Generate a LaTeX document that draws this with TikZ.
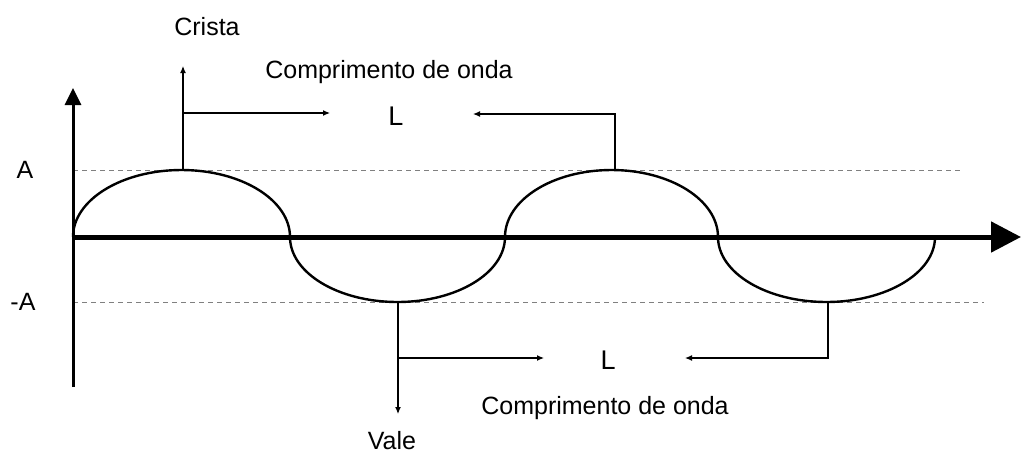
\documentclass[tikz,border=0pt]{standalone}
\usepackage{fontspec}
\setmainfont{Liberation Sans}
\usetikzlibrary{arrows.meta}
\tikzset{
  font=\fontsize{12.5}{14}\selectfont,
  lbl/.style={inner sep=0pt, anchor=center},
  big/.style={lbl, font=\fontsize{13.5}{15}\selectfont},
  axis/.style={draw, line width=1.5pt},
  wave/.style={draw, line width=1.2pt},
  level/.style={draw, gray, line width=0.5pt, dash pattern=on 2.5pt off 2pt},
  pointer/.style={draw, line width=0.6pt, -{Latex[length=3.5pt,width=3pt]}}
}
\begin{document}
\begin{tikzpicture}[x=0.5pt, y=-0.5pt]
\useasboundingbox (0,0) rectangle (1021,456);

% --- labels ---
\node[lbl] (crista) at (207,27) {Crista};
\node[lbl] (lentop) at (389,72) {Comprimento de onda};
\node[big] (ltop) at (396,116) {L};
\node[lbl] (amax) at (25,170) {A};
\node[lbl] (amin) at (23,302) {-A};
\node[big] (lbot) at (608,360) {L};
\node[lbl] (lenbot) at (605,408) {Comprimento de onda};
\node[lbl] (vale) at (392,441) {Vale};

% --- points on the wave ---
\coordinate (orig) at (73,237);
\coordinate (c1) at (183,170);
\coordinate (t1) at (398,302);
\coordinate (c2) at (615,170);
\coordinate (t2) at (828,302);

% --- amplitude levels ---
\draw[level] (73,170) -- (960,170);
\draw[level] (73,302) -- (984,302);

% --- axes ---
\coordinate (ytip) at (73,88);
\coordinate (xtip) at (1021,237);
\draw[axis, -{Triangle[length=8.5pt,width=8pt]}] (73,387) -- (ytip);
\draw[axis, line width=2.5pt, -{Triangle[length=15pt,width=15pt]}] (orig) -- (xtip);

% --- the wave ---
\draw[wave] (orig)
  arc[start angle=180, end angle=360, x radius=108.5, y radius=67]
  arc[start angle=180, end angle=0, x radius=107.5, y radius=65]
  arc[start angle=180, end angle=360, x radius=106.5, y radius=67]
  arc[start angle=180, end angle=0, x radius=108.5, y radius=65];

% --- crest and wavelength (top) ---
\coordinate (c1up) at (183,66);
\coordinate (c1mid) at (183,113);
\coordinate (ltopl) at (330,113);
\coordinate (ltopr) at (473,114);
\draw[pointer] (c1) -- (c1up);
\draw[pointer] (c1mid) -- (ltopl);
\draw[pointer] (c2) |- (ltopr);

% --- trough and wavelength (bottom) ---
\coordinate (t1down) at (398,414);
\coordinate (t1mid) at (398,358);
\coordinate (lbotl) at (544,358);
\coordinate (lbotr) at (685,358);
\draw[pointer] (t1) -- (t1down);
\draw[pointer] (t1mid) -- (lbotl);
\draw[pointer] (t2) |- (lbotr);

\end{tikzpicture}
\end{document}
